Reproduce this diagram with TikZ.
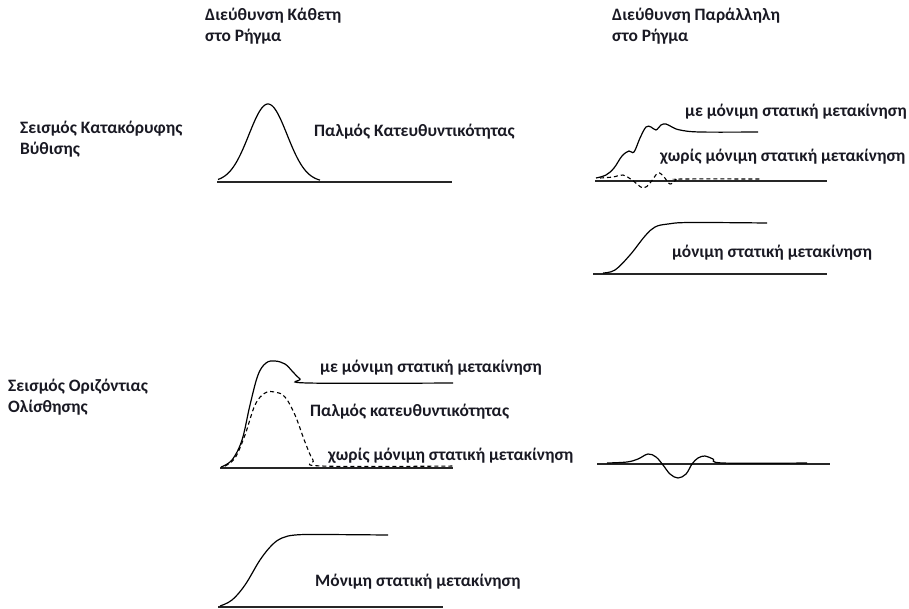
\documentclass[tikz,border=0pt]{standalone}
\usepackage{fontspec}
\setmainfont{Carlito}
\usepackage{tikz}
\usetikzlibrary{positioning}
\definecolor{InkDark}{RGB}{25,25,35}

\tikzset{
  lbl/.style={anchor=west, inner sep=0pt, text=InkDark, font=\fontsize{17.4}{21}\selectfont\bfseries, align=left},
  zeroline/.style={line width=1.3pt, black!85},
  trace/.style={line width=1.2pt, black},
  tracedash/.style={line width=1.1pt, black, dash pattern=on 4pt off 3pt}
}

\begin{document}
\begin{tikzpicture}[x=1pt, y=-1pt]
  \useasboundingbox (0,0) rectangle (909,608);

  \node[lbl] (headA) at (205,26) {Διεύθυνση Κάθετη\\στο Ρήγμα};
  \node[lbl] (headB) at (612,26) {Διεύθυνση Παράλληλη\\στο Ρήγμα};
  \node[lbl] (rowA) at (20,139) {Σεισμός Κατακόρυφης\\Βύθισης};
  \node[lbl] (rowB) at (8,397) {Σεισμός Οριζόντιας\\Ολίσθησης};

  \draw[zeroline] (217,182) -- (452,182);
  \draw[trace] plot[domain=218:320, samples=80, smooth] (\x, {182-78*exp(-((\x-268)/27)^2)});
  \node[lbl] (pulseA) at (314,132) {Παλμός Κατευθυντικότητας};

  \draw[zeroline] (595,181) -- (827,181);
  \draw[trace] plot[smooth, tension=0.6] coordinates {(596,178) (606,175) (614,168) (622,156) (629,151) (634,152) (640,138) (646,127) (651,127) (656,130) (661,125) (666,124) (672,127) (680,130) (700,132) (758,132)};
  \draw[tracedash] plot[smooth, tension=0.6] coordinates {(600,178) (613,177) (623,175) (632,180) (643,188) (650,183) (658,173) (664,177) (670,184) (676,180) (683,179) (760,179)};
  \node[lbl] (withB) at (685,112) {με μόνιμη στατική μετακίνηση};
  \node[lbl] (noB) at (660,157) {χωρίς μόνιμη στατική μετακίνηση};

  \draw[zeroline] (593,274) -- (827,274);
  \draw[trace] plot[smooth, tension=0.6] coordinates {(603,273) (615,270) (630,255) (645,236) (655,227) (668,224) (690,222.5) (767,223)};
  \node[lbl] (stepB) at (672,253) {μόνιμη στατική μετακίνηση};

  \draw[zeroline] (220,468) -- (453,468);
  \draw[trace] plot[smooth, tension=0.6] coordinates {(221,467) (232,460) (242,440) (250,405) (258,375) (266,363) (275,361) (285,364) (293,372) (300,379) (308,383) (453,383)};
  \draw[tracedash] plot[smooth, tension=0.6] coordinates {(225,466) (235,458) (245,435) (255,405) (265,393) (275,392) (285,397) (295,415) (305,442) (313,460) (322,466) (455,466)};
  \node[lbl] (withC) at (320,368) {με μόνιμη στατική μετακίνηση};
  \node[lbl] (pulseC) at (310,412) {Παλμός κατευθυντικότητας};
  \node[lbl] (noC) at (328,456) {χωρίς μόνιμη στατική μετακίνηση};

  \draw[zeroline] (218,607) -- (443,607);
  \draw[trace] plot[smooth, tension=0.6] coordinates {(220,606) (232,600) (245,585) (260,560) (272,545) (282,538) (295,535) (320,534.5) (388,535)};
  \node[lbl] (stepC) at (315,582) {Μόνιμη στατική μετακίνηση};

  \draw[zeroline] (597,464) -- (830,464);
  \draw[trace] plot[smooth, tension=0.6] coordinates {(607,463) (627,462) (638,459) (648,454) (656,457) (663,465) (670,474) (678,478) (686,474) (692,464) (698,458) (705,456) (713,459) (723,463) (807,463)};
\end{tikzpicture}
\end{document}
